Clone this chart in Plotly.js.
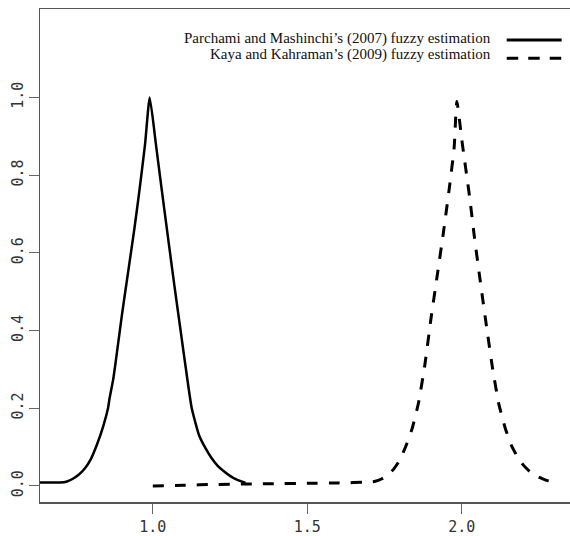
<!DOCTYPE html>
<html>
<head>
<meta charset="utf-8">
<script src="https://cdn.plot.ly/plotly-3.0.1.min.js"></script>
<style>html,body{margin:0;padding:0;background:#fff;}#chart{width:570px;height:536px;}</style>
</head>
<body>
<div id="chart"></div>
<script>
// Parchami and Mashinchi's (2007) fuzzy estimation
var pmX = [0.60, 0.70, 0.72, 0.74, 0.76, 0.78, 0.80, 0.82, 0.84, 0.855, 0.86, 0.872, 0.88, 0.90, 0.92, 0.94, 0.957, 0.975, 0.99,
           1.01, 1.029, 1.05, 1.07, 1.09, 1.11, 1.126, 1.15, 1.17, 1.19, 1.21, 1.23, 1.25, 1.27, 1.29, 1.30];
var pmY = [0.009, 0.009, 0.011, 0.018, 0.029, 0.045, 0.070, 0.108, 0.155, 0.200, 0.225, 0.275, 0.320, 0.440, 0.550, 0.660, 0.762, 0.880, 1.000,
           0.880, 0.762, 0.635, 0.515, 0.400, 0.285, 0.200, 0.130, 0.098, 0.072, 0.052, 0.038, 0.026, 0.017, 0.011, 0.008];
// Kaya and Kahraman's (2009) fuzzy estimation
var kkX = [1.00, 1.10, 1.20, 1.30, 1.40, 1.50, 1.60, 1.70, 1.72, 1.74, 1.76, 1.78, 1.80, 1.82, 1.84, 1.86, 1.88, 1.90, 1.92, 1.94, 1.96, 1.975, 1.984,
           2.00, 2.025, 2.04, 2.06, 2.08, 2.10, 2.12, 2.14, 2.16, 2.18, 2.20, 2.22, 2.24, 2.26, 2.28, 2.29];
var kkY = [0.000, 0.002, 0.004, 0.005, 0.006, 0.007, 0.008, 0.010, 0.012, 0.018, 0.028, 0.044, 0.068, 0.105, 0.150, 0.215, 0.310, 0.430, 0.540, 0.650, 0.770, 0.870, 0.990,
           0.890, 0.745, 0.645, 0.525, 0.410, 0.300, 0.210, 0.150, 0.105, 0.075, 0.053, 0.037, 0.026, 0.019, 0.013, 0.011];
var seriesNames = ["Parchami and Mashinchi\u2019s (2007) fuzzy estimation", "Kaya and Kahraman\u2019s (2009) fuzzy estimation"];
var xTicks = [1.0, 1.5, 2.0];
var xTickLabels = ["1.0", "1.5", "2.0"];
var yTicks = [0.0, 0.2, 0.4, 0.6, 0.8, 1.0];
var yTickLabels = ["0.0", "0.2", "0.4", "0.6", "0.8", "1.0"];

var traces = [
  {x: pmX, y: pmY, mode: "lines", name: seriesNames[0], line: {color: "#000", width: 2.5, shape: "spline", smoothing: 0.5}},
  {x: kkX, y: kkY, mode: "lines", name: seriesNames[1], line: {color: "#000", width: 3, dash: "11px,11px", shape: "spline", smoothing: 0.5}}
];

var tickFont = {family: "DejaVu Sans Mono", size: 15, color: "#333"};
var layout = {
  width: 570, height: 536,
  margin: {l: 40, r: 0, t: 9, b: 34},
  paper_bgcolor: "#fff", plot_bgcolor: "#fff",
  showlegend: false,
  xaxis: {
    range: [0.635, 2.350], tickvals: xTicks, ticktext: xTickLabels,
    showgrid: false, zeroline: false, showline: true, mirror: true,
    linecolor: "#555", linewidth: 1.5, ticks: "outside", ticklen: 10, tickwidth: 1, tickcolor: "#666",
    tickfont: tickFont
  },
  yaxis: {
    range: [-0.0412, 1.2278], tickvals: yTicks, ticktext: yTickLabels, tickangle: -90,
    showgrid: false, zeroline: false, showline: true, mirror: false,
    linecolor: "#555", linewidth: 1.5, ticks: "outside", ticklen: 10, tickwidth: 1, tickcolor: "#666",
    tickfont: tickFont
  },
  annotations: [
    {xref: "paper", yref: "paper", x: 0.855, y: 0.9406, xanchor: "right", yanchor: "middle", showarrow: false,
     text: seriesNames[0], font: {family: "Liberation Serif", size: 15, color: "#111"}},
    {xref: "paper", yref: "paper", x: 0.855, y: 0.9067, xanchor: "right", yanchor: "middle", showarrow: false,
     text: seriesNames[1], font: {family: "Liberation Serif", size: 15, color: "#111"}}
  ],
  shapes: [
    {type: "line", xref: "paper", yref: "paper", x0: 0.8806, x1: 0.9843, y0: 0.9371, y1: 0.9371, line: {color: "#000", width: 3}},
    {type: "line", xref: "paper", yref: "paper", x0: 0.8806, x1: 0.9843, y0: 0.900, y1: 0.900, line: {color: "#000", width: 3, dash: "11.5px,10px"}}
  ]
};
Plotly.newPlot("chart", traces, layout, {staticPlot: true, displayModeBar: false});
</script>
</body>
</html>
